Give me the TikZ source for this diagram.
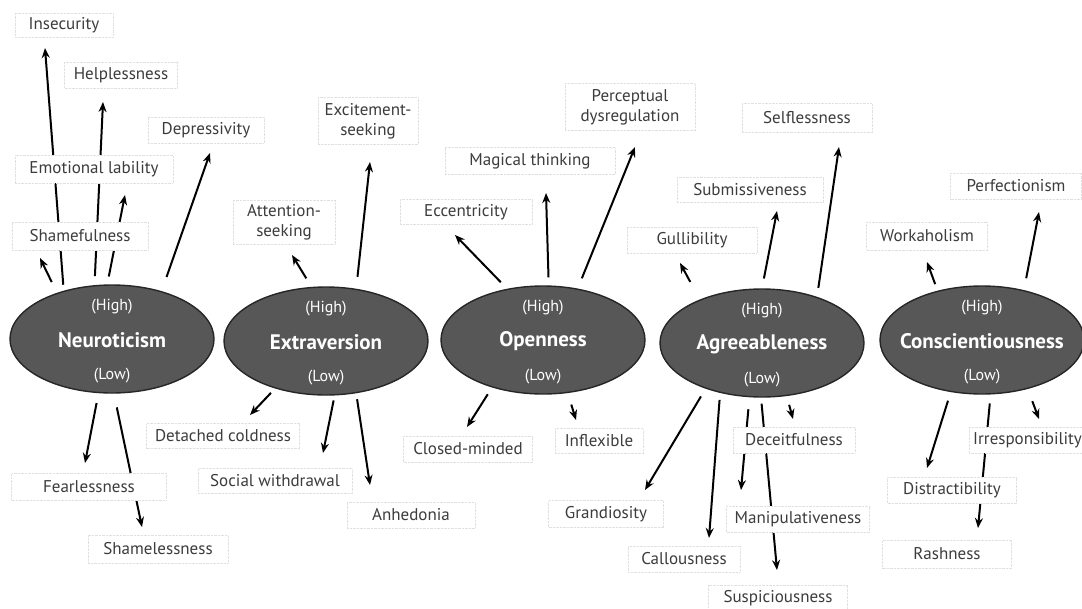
\documentclass[tikz,border=0pt]{standalone}
\usepackage{fontspec}
\setmainfont{PT Sans}
\usepackage{xcolor}
\usetikzlibrary{arrows.meta,shapes.geometric}
\definecolor{traitgray}{HTML}{575757}
\definecolor{facetgray}{HTML}{3C3C3C}

\begin{document}
\begin{tikzpicture}[x=1pt,y=-1pt,
    trait/.style={ellipse,draw=black!85,line width=1.4pt,fill=traitgray,
      minimum width=204pt,minimum height=108pt,inner sep=0pt},
    traitname/.style={text=white,font=\fontsize{21}{25}\selectfont\bfseries},
    pole/.style={text=white,font=\fontsize{16}{18}\selectfont},
    facet/.style={draw=black!12,densely dotted,fill=white,text=facetgray,
      font=\fontsize{17}{20}\selectfont,align=center,inner sep=0pt},
    arr/.style={line width=2pt,-{Stealth[length=10pt,width=8pt]}}]
  \useasboundingbox (0,0) rectangle (1082,608);
  % the five traits
  \foreach \nm/\x/\y/\txt in {neu/112/339/Neuroticism,ext/326/341/Extraversion,
      opn/543/340/Openness,agr/762/343/Agreeableness,con/982/340/Conscientiousness}{
    \node[trait] (\nm) at (\x,\y) {};
    \node[traitname] (\nm-name) at ([yshift=-1pt]\nm.center) {\txt};
    \node[pole] (\nm-hi) at ([yshift=32pt]\nm.center) {(High)};
    \node[pole] (\nm-lo) at ([yshift=-37pt]\nm.center) {(Low)};
  }
  % free ends of the arrows
  \foreach \nm/\x/\y in {insec/45/48,helpl/103/102,emol/125/195,shamef/40/258,
      depr/210/153,fearl/85/463,shamel/142/527,
      excite/370/162,attent/292/255,detach/250/415,socwd/323/453,anhed/370/485,
      percep/635/147,magic/546/193,eccen/455/235,closed/467/427,inflex/576/420,
      selfl/839/147,submis/777/211,gulli/680/263,grandi/645/490,callou/709/538,
      manip/741/490,suspic/777/570,deceit/793/419,
      perfec/1039/212,workah/927/262,distr/927/468,rashn/978/528,irresp/1039/419}
    \coordinate (\nm-tip) at (\x,\y);
  % arrows: trait / border angle / gap / target
  \foreach \src/\ang/\gap/\tip in {neu/135/6/insec,neu/108/9/helpl,neu/95/8/emol,
      neu/140/12/shamef,neu/44/15/depr,neu/256/10/fearl,neu/272/14/shamel,
      ext/60/12/excite,ext/105/10/attent,ext/223/6/detach,ext/279/5/socwd,
      ext/300/6/anhed,
      opn/56/11/percep,opn/84/8/magic,opn/125/9/eccen,opn/223/8/closed,
      opn/295/12/inflex,
      agr/40/9/selfl,agr/90/10/submis,agr/145/20/gulli,agr/219/9/grandi,
      agr/230/7/callou,agr/257/12/manip,agr/269/6/suspic,agr/295/9/deceit,
      con/50/12/perfec,con/132/7/workah,con/239/9/distr,con/279/9/rashn,
      con/313/13/irresp}
    \draw[arr,shorten <=\gap pt] (\src.\ang) -- (\tip-tip);
  % facet labels
  \foreach \nm/\x/\y/\w/\h/\txt in {insec/64/25/98/24/Insecurity,
      helpl/121/75/113/26/Helplessness,depr/206/130/116/26/Depressivity,
      emol/94/169/158/28/Emotional lability,shamef/80/236/136/28/Shamefulness,
      fearl/89/487/155/27/Fearlessness,shamel/158/549/140/28/Shamelessness,
      excite/368/121/100/47/{Excitement-\\seeking},
      attent/284/222/102/44/{Attention-\\seeking},
      detach/223/436/153/25/Detached coldness,
      socwd/275/481/154/25/Social withdrawal,anhed/411/515/128/26/Anhedonia,
      percep/630/107/130/47/{Perceptual\\dysregulation},
      magic/530/161/170/27/Magical thinking,eccen/466/212/132/25/Eccentricity,
      closed/468/449/129/26/Closed-minded,inflex/599/441/88/25/Inflexible,
      selfl/807/118/130/29/Selflessness,submis/750/190/146/25/Submissiveness,
      gulli/692/240/130/26/Gullibility,grandi/606/514/115/27/Grandiosity,
      callou/684/559/112/26/Callousness,deceit/794/440/122/26/Deceitfulness,
      manip/798/519/143/26/Manipulativeness,suspic/778/598/139/26/Suspiciousness,
      perfec/1016/186/131/26/Perfectionism,workah/927/236/121/28/Workaholism,
      distr/952/490/129/26/Distractibility,rashn/947/554/129/28/Rashness}
    \node[facet,minimum width=\w,minimum height=\h] (\nm) at (\x,\y) {\txt};
  \node[facet,anchor=east,minimum height=26,inner xsep=4pt] (irresp) at (1086,440)
    {Irresponsibility};
\end{tikzpicture}
\end{document}
